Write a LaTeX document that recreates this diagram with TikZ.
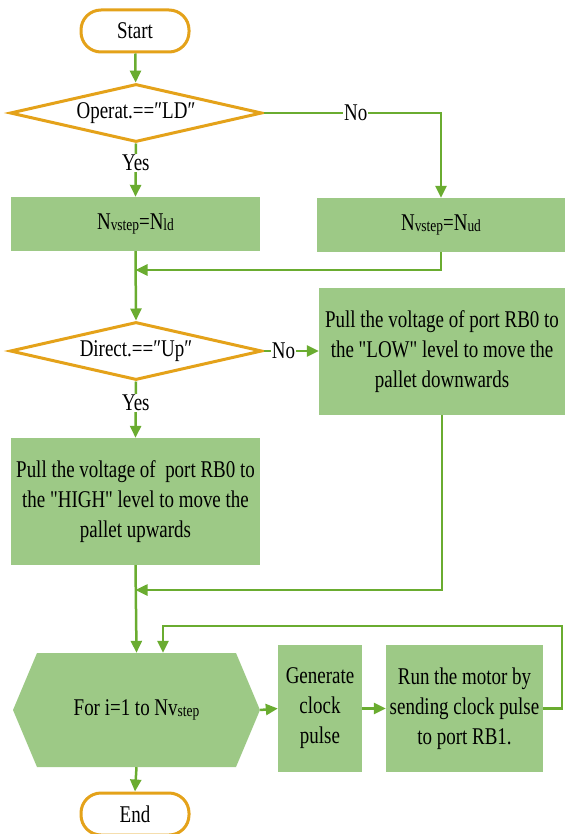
\documentclass[tikz,border=0pt]{standalone}
\usepackage{fontspec}
\setmainfont{Liberation Serif}[FakeStretch=0.79, Ligatures=TeXOff]
\usetikzlibrary{arrows.meta,shapes.geometric}

\definecolor{termorange}{RGB}{228,162,26}
\definecolor{boxgreen}{RGB}{157,201,134}
\definecolor{linegreen}{RGB}{106,172,48}

% smaller index text, e.g. the "vstep" of N_vstep
\newcommand\idx[1]{\raisebox{-1.5pt}{\fontsize{17}{17}\selectfont #1}}

\begin{document}
\begin{tikzpicture}[x=1pt,y=-1pt,
  font=\fontsize{24}{30}\selectfont,
  term/.style={draw=termorange, line width=3pt, fill=white, rounded corners=20pt,
    minimum width=108pt, minimum height=42pt, inner sep=0pt},
  decide/.style={diamond, draw=termorange, line width=3pt, fill=white, aspect=4.34,
    minimum width=252pt, minimum height=58pt, inner sep=0pt},
  proc/.style={fill=boxgreen, inner sep=0pt, align=center},
  conn/.style={draw=linegreen, line width=2.5pt, -{Triangle[length=12pt,width=11pt]}},
  lbl/.style={fill=white, inner sep=1pt}
]
\useasboundingbox (0,0) rectangle (565,834);

% terminators
\node[term] (start) at (135,31) {Start};
\node[term] (stop) at (135,814) {End};

% decisions
\node[decide] (d1) at (136,113) {Operat.==″LD″};
\node[decide] (d2) at (136,351) {Direct.==″Up″};

% process boxes
\node[proc, minimum width=249pt, minimum height=54pt] (b1) at (135.5,224)
  {N\idx{vstep}=N\idx{ld}};
\node[proc, minimum width=248pt, minimum height=54pt] (b2) at (441,225)
  {N\idx{vstep}=N\idx{ud}};
\node[proc, minimum width=246pt, minimum height=127pt] (b3) at (442,351.5)
  {Pull the voltage of port RB0 to\\the "LOW" level to move the\\pallet downwards};
\node[proc, minimum width=249pt, minimum height=127pt] (b4) at (135.5,501.5)
  {Pull the voltage of \ port RB0 to\\the "HIGH" level to move the\\pallet upwards};

% loop header (hexagon)
\fill[boxgreen] (13,710) -- (37,653) -- (236,653) -- (260,710) -- (236,767) -- (37,767) -- cycle;
\node[minimum width=247pt, minimum height=114pt, inner sep=0pt] (hex) at (136.5,710)
  {For i=1 to Nv\idx{step}};

\node[proc, minimum width=84pt, minimum height=127pt] (gen) at (320,708.5)
  {Generate\\clock\\pulse};
\node[proc, minimum width=157pt, minimum height=127pt] (run) at (464.5,708.5)
  {Run the motor by\\sending clock pulse\\to port RB1.};

% connectors
\coordinate (m1) at (135.5,270);
\coordinate (m2) at (135.5,590);
\coordinate (m3) at (163,626);

\draw[conn] (start) -- (d1);
\draw[conn] (d1.south) -- node[lbl, pos=0.36] {Yes} (b1.north);
\draw[conn] (d1.east) -- node[lbl, pos=0.52] {No} (b2.north |- d1.east) -- (b2.north);
\draw[conn] (b2.south) |- (m1);
\draw[conn] (b1.south) -- (d2.north);
\draw[conn] (d2.east) -- node[lbl, pos=0.36] {No} (b3.west |- d2.east);
\draw[conn] (d2.south) -- node[lbl, pos=0.38] {Yes} (b4.north);
\draw[conn] (b4.south) -- (hex.north);
\draw[conn] (b3.south) |- (m2);
\draw[conn] (hex.east) -- (gen.west);
\draw[conn] (gen.east) -- (run.west);
\draw[conn] (run.east) -- ++(19,0) |- (m3) -- (m3 |- hex.north);
\draw[conn] (hex.south) -- (stop.north);
\end{tikzpicture}
\end{document}
